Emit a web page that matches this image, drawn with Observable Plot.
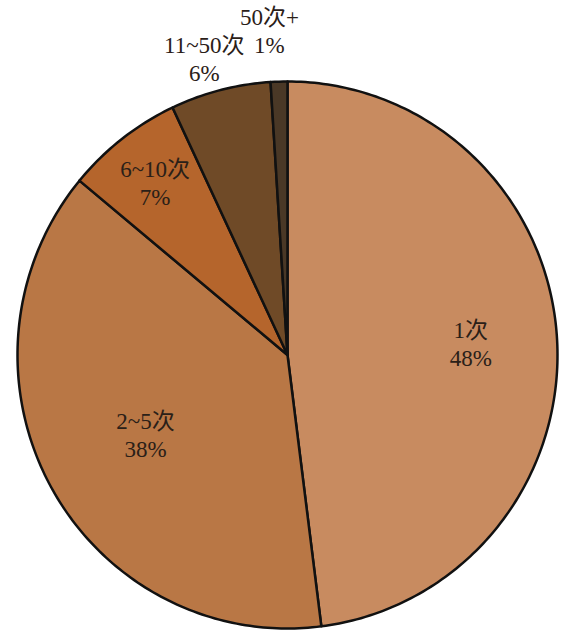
<!DOCTYPE html>
<html><head><meta charset="utf-8">
<script src="https://cdn.jsdelivr.net/npm/d3@7"></script>
<script src="https://cdn.jsdelivr.net/npm/@observablehq/plot@0.6"></script>
<style>body{margin:0;background:#fff} svg text{font-family:"Liberation Serif","DejaVu Serif","Noto Sans CJK SC",serif !important}</style>
</head><body><div id="chart"></div>
<script>
const categories = ["1次", "2~5次", "6~10次", "11~50次", "50次+"];
const values = [48, 38, 7, 6, 1];
const colors = ["#C88B60", "#B97745", "#B5652C", "#6F4A27", "#4A3826"];
// label placement (layout only): distance from centre as fraction of radius, horizontal nudge in px
const labelRadius = [0.68, 0.6, 0.8, 1.12, 1.19];
const labelDx = [0, 0, 0, -8, -8];

const pie = d3.pie().sort(null).value(d => d)(values);
const pts = [];
pie.forEach((p, i) => {
  pts.push({key: categories[i], x: 0, y: 0});
  const n = Math.max(2, Math.ceil((p.endAngle - p.startAngle) * 60));
  for (let k = 0; k <= n; k++) {
    const a = p.startAngle + (p.endAngle - p.startAngle) * k / n;
    pts.push({key: categories[i], x: Math.sin(a), y: Math.cos(a)});
  }
});
const labels = pie.map((p, i) => {
  const a = (p.startAngle + p.endAngle) / 2;
  return {text: categories[i] + "\n" + values[i] + "%", x: labelRadius[i] * Math.sin(a), y: labelRadius[i] * Math.cos(a), dx: labelDx[i]};
});

const chart = Plot.plot({
  width: 566, height: 636,
  marginLeft: 17, marginRight: 9, marginTop: 81, marginBottom: 8,
  x: {domain: [-1, 1], axis: null},
  y: {domain: [-1, 1], axis: null},
  color: {domain: categories, range: colors},
  style: {background: "#fff", fontFamily: "Liberation Serif, serif"},
  marks: [
    Plot.line(pts, {x: "x", y: "y", z: "key", fill: "key", stroke: "#111", strokeWidth: 2.5, curve: "linear-closed", strokeLinejoin: "round"}),
    ...labels.map(l => Plot.text([l], {x: "x", y: "y", text: "text", dx: l.dx, fontSize: 23, lineHeight: 1.22, fill: "#2a2018"}))
  ]
});
document.getElementById("chart").append(chart);
</script>
</body></html>
